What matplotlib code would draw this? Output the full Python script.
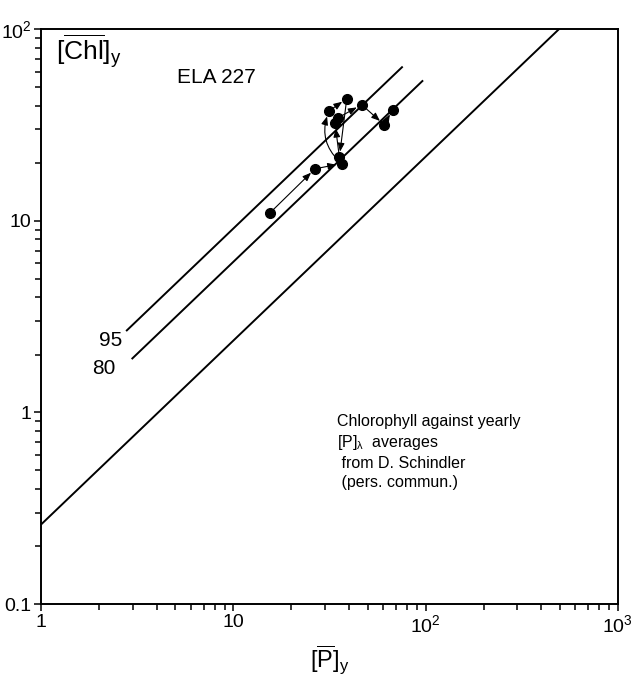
import matplotlib
matplotlib.use("Agg")
import matplotlib.pyplot as plt
import numpy as np

plt.rcParams["font.family"] = ["Liberation Sans", "DejaVu Sans"]
plt.rcParams["mathtext.fontset"] = "custom"
plt.rcParams["mathtext.rm"] = "Liberation Sans"
plt.rcParams["mathtext.it"] = "Liberation Sans"

# yearly averages, ELA 227
p_years = [15.5, 26.6, 36.6, 31.4, 38.9, 35.6, 33.8, 35.2, 46.5, 60.8, 67.4]
chl_years = [11.0, 18.7, 19.9, 37.4, 43.5, 21.5, 32.4, 34.6, 40.4, 31.8, 38.1]
# curvature of each connecting arrow
arrow_rad = [0.0, 0.0, -0.35, 0.0, 0.0, 0.0, 0.0, 0.0, 0.0, 0.0]

# regression line Chl = a * P ** b and its 80 / 95 % limits
slope = 0.96
coef_mean = 0.26
coef_80 = 0.67
coef_95 = 1.0
p_mean = [1.0, 1000.0]
p_80 = [2.96, 97.0]
p_95 = [2.77, 76.0]

xticks = [1, 10, 100, 1000]
xticklabels = ["1", "10", r"$10^2$", r"$10^3$"]
yticks = [0.1, 1, 10, 100]
yticklabels = ["0.1", "1", "10", r"$10^2$"]


def main() -> None:
    fig = plt.figure(figsize=(6.41, 6.81), dpi=100)
    ax = fig.add_axes([0.064, 0.113, 0.900, 0.844])
    ax.set_xscale("log")
    ax.set_yscale("log")
    ax.set_xlim(1, 1000)
    ax.set_ylim(0.1, 100)

    for coef, (p0, p1) in [(coef_mean, p_mean), (coef_80, p_80), (coef_95, p_95)]:
        p = np.geomspace(p0, p1, 50)
        ax.plot(p, coef * p ** slope, color="black", lw=1.4, solid_capstyle="butt")

    ax.plot(p_years, chl_years, "o", color="black", ms=7, zorder=4)
    for i in range(len(p_years) - 1):
        ax.annotate(
            "",
            xy=(p_years[i + 1], chl_years[i + 1]),
            xytext=(p_years[i], chl_years[i]),
            arrowprops=dict(
                arrowstyle="-|>,head_length=0.5,head_width=0.2",
                color="black",
                lw=0.8,
                shrinkA=3,
                shrinkB=4,
                connectionstyle=f"arc3,rad={arrow_rad[i]}",
            ),
            zorder=3,
        )

    ax.text(2.64, 2.38, "95", fontsize=15, ha="right", va="center")
    ax.text(2.45, 1.70, "80", fontsize=15, ha="right", va="center")
    ax.text(1.2, 76, r"$[\overline{\mathrm{Chl}}]_\mathrm{y}$", fontsize=19, va="center")
    ax.text(5.1, 56, "ELA 227", fontsize=15, va="center")
    ax.text(
        34.5, 0.98,
        "Chlorophyll against yearly\n"
        r"$[\mathrm{P}]_{\lambda}$  averages" "\n"
        " from D. Schindler\n"
        " (pers. commun.)",
        fontsize=11.5, va="top", linespacing=1.3,
    )

    ax.set_xticks(xticks, labels=xticklabels)
    ax.set_yticks(yticks, labels=yticklabels)
    ax.tick_params(which="both", direction="out", width=1.1, labelsize=14, pad=2)
    ax.tick_params(which="major", length=5)
    ax.tick_params(which="minor", length=4)
    for side in ["left", "bottom", "right", "top"]:
        ax.spines[side].set_linewidth(1.4)

    ax.set_xlabel(r"$[\overline{\mathrm{P}}]_\mathrm{y}$", fontsize=17, labelpad=6)

    fig.savefig("out.png", dpi=100)


if __name__ == "__main__":
    main()
